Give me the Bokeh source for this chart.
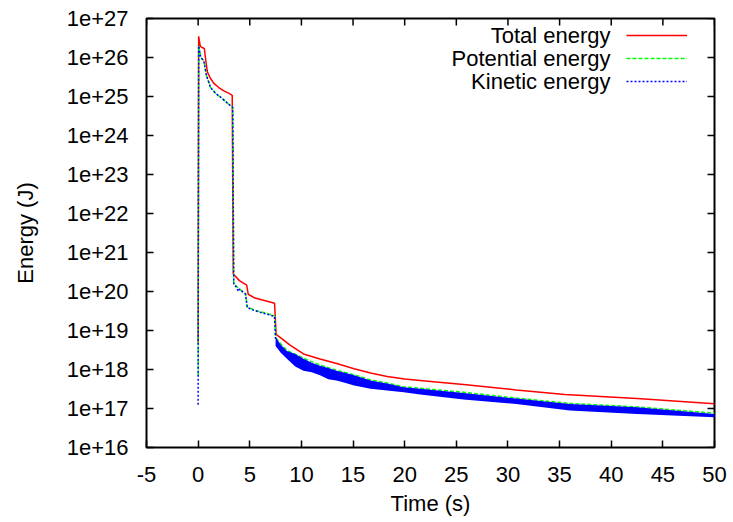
from bokeh.plotting import figure
from bokeh.models import (FixedTicker, CustomJSTickFormatter, Legend, LegendItem, Label)
from bokeh.embed import file_html
from bokeh.resources import INLINE

# ---------------- data ----------------
series_names = ["Total energy", "Potential energy", "Kinetic energy"]

t_total = [0.0, 0.05, 0.2, 0.3, 0.6, 0.75, 0.9, 1.2, 1.5, 2.0, 2.5, 3.0, 3.3,
           3.4, 4.0, 4.7, 4.85, 5.5, 6.5, 7.4, 7.55, 8.0, 8.9, 10.2, 11.8,
           13.5, 15.1, 16.7, 18.3, 20.0, 22.0, 25.7, 30.8, 35.5, 42.5, 50.0]
e_total = [5e18, 3.5e26, 2.0e26, 1.85e26, 1.7e26, 8e25, 4.2e25, 2.9e25, 2.2e25,
           1.7e25, 1.4e25, 1.2e25, 1.07e25,
           2.8e20, 1.9e20, 1.45e20, 8.5e19, 6.8e19, 5.8e19, 5.0e19, 8.0e18,
           6.5e18, 4.2e18, 2.5e18, 1.85e18, 1.4e18, 1.05e18, 8.1e17, 6.6e17,
           5.7e17, 5.1e17, 4.1e17, 3.0e17, 2.3e17, 1.8e17, 1.32e17]

t_pot = [0.0, 0.05, 0.25, 0.55, 0.8, 1.2, 1.7, 2.2, 2.7, 3.1, 3.35,
         3.45, 4.0, 4.6, 4.75, 5.5, 6.5, 7.4, 7.5, 8.0, 8.6, 10.2, 11.8,
         13.4, 15.1, 16.7, 18.3, 19.9, 21.5, 25.7, 30.8, 36.0, 42.5, 50.0]
e_pot = [7e17, 2.0e26, 1.0e26, 8.3e25, 3.5e25, 1.7e25, 1.2e25, 9.5e24, 7.3e24,
         5.9e24, 5.3e24,
         1.6e20, 1.15e20, 8.7e19, 4.0e19, 3.3e19, 2.8e19, 2.4e19, 6.7e18,
         4.5e18, 3.1e18, 1.95e18, 1.3e18, 9.6e17, 7.3e17, 5.4e17, 4.5e17,
         3.6e17, 3.3e17, 2.6e17, 1.85e17, 1.35e17, 1.1e17, 7.6e16]

t_kin = [0.0, 0.05, 0.25, 0.55, 0.8, 1.2, 1.7, 2.2, 2.7, 3.1, 3.35,
         3.45, 3.7, 3.9, 4.0, 4.6, 4.75, 5.5, 6.5, 7.4, 7.5, 8.0, 8.6, 10.2,
         11.8, 13.4, 15.1, 16.7, 18.3, 19.9, 21.5, 25.7, 30.8, 36.0, 42.5, 50.0]
e_kin = [1.25e17, 2.0e26, 1.0e26, 8.3e25, 3.5e25, 1.7e25, 1.2e25, 9.5e24,
         7.3e24, 5.9e24, 5.3e24,
         1.5e20, 1.3e20, 1.0e20, 1.15e20, 8.5e19, 3.9e19, 3.2e19, 2.7e19,
         2.3e19, 6.0e18, 3.4e18, 2.4e18, 1.35e18, 9.4e17, 7.0e17, 5.3e17,
         4.1e17, 3.6e17, 3.0e17, 2.7e17, 2.1e17, 1.5e17, 1.08e17, 8.8e16, 6.6e16]

# envelope of the oscillating kinetic energy
t_band = [7.5, 8.0, 8.6, 9.4, 10.2, 11.0, 11.8, 12.6, 13.4, 14.2, 15.1, 16.7,
          18.3, 19.9, 21.5, 25.7, 30.8, 36.0, 42.5, 50.0]
ke_hi = [6.7e18, 4.3e18, 3.0e18, 2.5e18, 1.9e18, 1.5e18, 1.25e18, 1.1e18,
         9.3e17, 8.2e17, 7.1e17, 5.2e17, 4.4e17, 3.5e17, 3.2e17, 2.5e17,
         1.8e17, 1.3e17, 1.07e17, 7.2e16]
ke_lo = [4.0e18, 2.7e18, 1.9e18, 1.2e18, 9.3e17, 8.5e17, 7.1e17, 5.6e17,
         5.2e17, 4.6e17, 3.9e17, 3.2e17, 2.9e17, 2.6e17, 2.3e17, 1.7e17,
         1.3e17, 8.9e16, 7.2e16, 6.0e16]

x_ticks = [-5, 0, 5, 10, 15, 20, 25, 30, 35, 40, 45, 50]
x_tick_labels = ["-5", "0", "5", "10", "15", "20", "25", "30", "35", "40", "45", "50"]
y_ticks = [1e16, 1e17, 1e18, 1e19, 1e20, 1e21, 1e22, 1e23, 1e24, 1e25, 1e26, 1e27]
y_tick_labels = ["1e+16", "1e+17", "1e+18", "1e+19", "1e+20", "1e+21",
                 "1e+22", "1e+23", "1e+24", "1e+25", "1e+26", "1e+27"]

x_label = "Time (s)"
y_label = "Energy (J)"

# ---------------- figure ----------------
FONT = "Liberation Sans"
FS = "22px"
X0, X1 = -5, 50
Y0, Y1 = 1e16, 1e27
FW, FH = 568, 429
TICK = 7

p = figure(frame_width=FW, frame_height=FH,
           x_range=(X0, X1), y_range=(Y0, Y1), y_axis_type="log",
           output_backend="svg", toolbar_location=None,
           min_border_left=146, min_border_right=19,
           min_border_top=18, min_border_bottom=74)
p.xgrid.visible = False
p.ygrid.visible = False
p.outline_line_color = "black"
p.outline_line_width = 2
p.outline_line_alpha = 1
p.background_fill_color = "white"
p.border_fill_color = "white"

lookup = """
    for (let i = 0; i < vals.length; i++) {
        if (Math.abs(vals[i] - tick) <= 1e-6 * Math.max(1, Math.abs(vals[i]))) return labels[i];
    }
    return "";
"""

def style_axis(ax):
    ax.axis_line_color = None
    ax.major_tick_in = TICK
    ax.major_tick_out = 0
    ax.major_tick_line_width = 1.5
    ax.major_tick_line_color = "black"
    ax.minor_tick_line_color = None
    ax.major_label_text_font = FONT
    ax.major_label_text_font_size = FS
    ax.major_label_text_color = "black"
    ax.axis_label_text_font = FONT
    ax.axis_label_text_font_size = FS
    ax.axis_label_text_font_style = "normal"
    ax.axis_label_text_color = "black"

xa = p.xaxis[0]
style_axis(xa)
xa.ticker = FixedTicker(ticks=x_ticks)
xa.formatter = CustomJSTickFormatter(args=dict(vals=x_ticks, labels=x_tick_labels), code=lookup)
xa.axis_label = x_label
xa.major_label_standoff = 19
xa.axis_label_standoff = 6

ya = p.yaxis[0]
style_axis(ya)
ya.ticker = FixedTicker(ticks=y_ticks)
ya.formatter = CustomJSTickFormatter(args=dict(vals=y_ticks, labels=y_tick_labels), code=lookup)
ya.axis_label = y_label
ya.major_label_standoff = 18
ya.axis_label_standoff = 26

# mirrored inward ticks on the top and right border (gnuplot style), derived from tick lists
dx = TICK * (X1 - X0) / FW
fy = 10 ** (TICK * 11 / FH)
p.segment(x0=x_ticks, y0=[Y1] * len(x_ticks), x1=x_ticks, y1=[Y1 / fy] * len(x_ticks),
          line_color="black", line_width=1.5)
p.segment(x0=[X1] * len(y_ticks), y0=y_ticks, x1=[X1 - dx] * len(y_ticks), y1=y_ticks,
          line_color="black", line_width=1.5)

# ---------------- data glyphs ----------------
r_total = p.line(t_total, e_total, line_color="#ff0000", line_width=1.5)
r_pot = p.line(t_pot, e_pot, line_color="#00ff00", line_width=1.5, line_dash="4 2")
p.varea(x=t_band, y1=ke_lo, y2=ke_hi, fill_color="#0000ff", fill_alpha=1)
r_kin = p.line(t_kin, e_kin, line_color="#0000ff", line_width=1.5, line_dash="2 2")

# ---------------- legend (gnuplot style: text then sample) ----------------
legend = Legend(items=[LegendItem(label=" ", renderers=[r]) for r in (r_total, r_pot, r_kin)],
                location=(480, 356), glyph_width=61, glyph_height=20,
                label_height=20, label_width=1, label_standoff=0, spacing=3,
                padding=0, margin=0, border_line_color=None,
                background_fill_alpha=0, label_text_font_size="10px")
p.add_layout(legend)

for i, name in enumerate(series_names):
    p.add_layout(Label(x=464, y=412 - 23 * i, x_units="screen", y_units="screen",
                       text=name, text_align="right", text_baseline="middle",
                       text_font=FONT, text_font_size=FS, text_color="black"))

open("out.html", "w").write(file_html(p, INLINE))
